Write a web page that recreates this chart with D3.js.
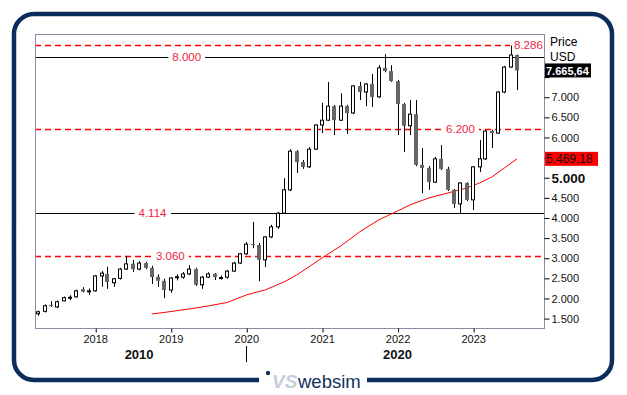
<html>
  <head>
    <script src="https://cdnjs.cloudflare.com/ajax/libs/d3/7.8.5/d3.min.js"></script>
    <style>
      body { margin: 0; background: #fff; }
      svg { display: block; font-family: "Liberation Sans", Arial, sans-serif; }
    </style>
  </head>
  <body>
    <svg width="627" height="395"></svg>
    <script>
      // monthly candles, Apr 2017 .. Aug 2023
      const firstMonth = new Date(2017, 3, 1);
      const lastMonth = new Date(2023, 7, 1);

      const open = [1620,1680,1840,1790,1940,2020,2040,2230,2180,
        2190,2560,2610,2390,2500,2730,2860,2730,2880,2760,2540,2440,
        2210,2530,2530,2610,2730,2340,2530,2610,2510,2530,2680,2880,
        3110,3350,3330,2960,3530,3780,4120,4700,5660,5390,5270,5710,
        6310,6430,6780,6430,6780,6610,7280,7130,7330,7010,7730,7650,
        7400,6830,6290,6580,5320,5240,4890,5470,5220,4700,4350,4870,
        4450,5270,5470,6160,6110,7130,7750,8050];
      const high = [1700,1850,1930,1950,2050,2080,2220,2280,2250,
        2580,2680,2790,2510,2760,3060,2960,2930,2910,2810,2600,2490,
        2530,2600,2660,2830,2760,2560,2650,2630,2570,2710,2910,3130,
        3400,3900,3380,3550,3830,4150,4990,5710,5690,5440,5760,6330,
        6860,7380,6810,7100,6810,7300,7380,7350,7580,7800,8070,7800,
        7430,6860,6930,6930,5740,5290,5520,5810,5270,4720,4890,4890,
        5290,5940,6190,6190,7150,7780,8286,8060];
      const low = [1570,1650,1790,1760,1930,1960,2020,2150,2090,
        2170,2290,2240,2290,2470,2710,2660,2700,2730,2360,2290,2010,
        2140,2450,2490,2580,2310,2240,2510,2460,2470,2490,2660,2860,
        3080,3250,2430,2780,3500,3730,4100,4670,5120,5220,5240,5690,
        6110,6410,6060,6410,6090,6580,6930,6780,6760,6980,7620,7380,
        6060,5640,6060,5290,4620,4700,4870,5190,4670,4250,4114,4420,
        4200,5140,5440,5740,6090,7100,7730,7180];
      const close = [1670,1820,1810,1920,2020,2030,2190,2170,2190,
        2560,2630,2410,2490,2730,2860,2730,2880,2760,2530,2440,2210,
        2510,2540,2610,2730,2340,2530,2610,2530,2520,2680,2880,3110,
        3350,3330,2960,3530,3780,4120,4700,5660,5390,5270,5710,6310,
        6430,6780,6430,6780,6610,7280,7130,7330,7010,7730,7650,7400,
        6830,6290,6580,5320,5240,4890,5470,5220,4700,4350,4870,4450,
        5270,5470,6160,6110,7130,7750,8050,7665.64];

      // moving average
      const maMonths = ["2018-10","2018-12","2019-04","2019-07","2019-10","2020-01","2020-04",
        "2020-07","2020-09","2021-01","2021-04","2021-07","2021-10","2022-01","2022-03",
        "2022-06","2022-09","2022-12","2023-02","2023-04","2023-06","2023-08"];
      const maValues = [1615,1653,1740,1814,1901,2087,2212,2410,2584,3006,3304,3652,3950,
        4174,4323,4497,4621,4745,4869,5018,5242,5469.18];

      // horizontal levels
      const levels = [8286, 8000, 6200, 4114, 3060];
      const levelDashed = [true, false, true, false, true];

      const priceTicks = [1500,2000,2500,3000,3500,4000,4500,5000,5500,6000,6500,7000,7500];
      const hiddenTickLabels = [5500, 7500]; // covered by the value boxes
      const yearTicks = [2018, 2019, 2020, 2021, 2022, 2023];
      const decadeLabels = ["2010", "2020"];

      const months = d3.timeMonth.range(firstMonth, d3.timeMonth.offset(lastMonth, 1));
      const candles = months.map((m, i) => ({date: m, o: open[i], h: high[i], l: low[i], c: close[i]}));
      const parseMonth = d3.timeParse("%Y-%m");
      const ma = maMonths.map((m, i) => ({date: parseMonth(m), v: maValues[i]}));

      const loc = d3.formatLocale({decimal: ",", thousands: ".", grouping: [3], currency: ["", ""]});
      const fmtInt = loc.format(",.0f");
      const fmtDec = loc.format(",.2f");

      const svg = d3.select("svg");
      const plot = {left: 35, top: 34, right: 544, bottom: 328};
      const red = "#ff0000";
      const labelRed = "#ee2244";

      const x = d3.scaleTime().domain([firstMonth, lastMonth]).range([38.3, 517]);
      const y = d3.scaleLinear().domain([1500, 8000]).range([318.6, 57]);

      svg.append("defs").append("clipPath").attr("id", "clip")
        .append("rect").attr("x", plot.left).attr("y", plot.top)
        .attr("width", plot.right - plot.left).attr("height", plot.bottom - plot.top);

      // outer frame
      svg.append("rect")
        .attr("x", 14).attr("y", 14).attr("width", 598).attr("height", 366)
        .attr("rx", 20).attr("fill", "none")
        .attr("stroke", "#0b2d5c").attr("stroke-width", 4.5);

      // levels
      const lv = svg.append("g").attr("clip-path", "url(#clip)");
      levels.forEach((v, i) => {
        const yy = Math.round(y(v)) + 0.5;
        lv.append("line")
          .attr("x1", plot.left).attr("x2", plot.right).attr("y1", yy).attr("y2", yy)
          .attr("stroke", levelDashed[i] ? red : "#000")
          .attr("stroke-width", levelDashed[i] ? 1.3 : 1)
          .attr("stroke-dasharray", levelDashed[i] ? "6,4" : null);
      });

      // level labels
      const labelAt = [
        {date: new Date(2023, 7, 1), anchor: "start", dx: -3},
        {date: new Date(2019, 0, 1), anchor: "middle", dx: 16},
        {date: new Date(2022, 10, 1), anchor: "middle", dx: 0},
        {date: new Date(2018, 8, 1), anchor: "middle", dx: 7},
        {date: new Date(2018, 11, 1), anchor: "middle", dx: 6}
      ];
      levels.forEach((v, i) => {
        const p = labelAt[i];
        const tx = x(p.date) + p.dx;
        const t = svg.append("text")
          .attr("x", tx).attr("y", y(v) + 4)
          .attr("text-anchor", p.anchor)
          .attr("font-size", 11.5).attr("fill", labelRed)
          .text(fmtInt(v));
        const b = t.node().getBBox();
        svg.insert("rect", "text:last-of-type")
          .attr("x", b.x - 4).attr("y", y(v) - 3).attr("width", Math.min(b.width + 8, plot.right - b.x + 4)).attr("height", 6)
          .attr("fill", "#fff");
      });

      // moving average
      svg.append("path")
        .datum(ma)
        .attr("fill", "none").attr("stroke", red).attr("stroke-width", 1)
        .attr("d", d3.line().x(d => x(d.date)).y(d => y(d.v)));

      // candles
      const cg = svg.append("g");
      cg.selectAll("line").data(candles).join("line")
        .attr("x1", d => Math.round(x(d.date)) + 0.5)
        .attr("x2", d => Math.round(x(d.date)) + 0.5)
        .attr("y1", d => y(d.h)).attr("y2", d => y(d.l))
        .attr("stroke", "#000").attr("stroke-width", 1);
      cg.selectAll("rect").data(candles).join("rect")
        .attr("x", d => Math.round(x(d.date)) + (d.c >= d.o ? -1.5 : -2))
        .attr("width", d => d.c >= d.o ? 3 : 4)
        .attr("y", d => Math.min(y(d.o), y(d.c)))
        .attr("height", d => Math.max(1, Math.abs(y(d.o) - y(d.c))))
        .attr("fill", d => d.c >= d.o ? "#fff" : "#666")
        .attr("stroke", d => d.c >= d.o ? "#000" : "none")
        .attr("stroke-width", 1);

      // plot border
      svg.append("rect")
        .attr("x", plot.left + 0.5).attr("y", plot.top + 0.5)
        .attr("width", plot.right - plot.left).attr("height", plot.bottom - plot.top)
        .attr("fill", "none").attr("stroke", "#8c8ca0").attr("stroke-width", 1);

      // right price axis
      const ya = svg.append("g")
        .attr("transform", `translate(${plot.right + 0.5},0)`)
        .call(d3.axisRight(y).tickValues(priceTicks).tickSize(5).tickPadding(2)
          .tickFormat(d => hiddenTickLabels.includes(d) ? "" : fmtInt(d)));
      ya.select(".domain").remove();
      ya.selectAll("text").attr("font-size", 11).attr("fill", "#111").attr("font-family", null)
        .filter(d => d === 5000).attr("font-size", 13.5).attr("font-weight", "bold");

      svg.append("text").attr("x", 550).attr("y", 46).attr("font-size", 12).text("Price");
      svg.append("text").attr("x", 550).attr("y", 61).attr("font-size", 12).text("USD");

      // last price / moving average value boxes
      const lastClose = close[close.length - 1];
      const lastMa = maValues[maValues.length - 1];
      svg.append("rect").attr("x", 545).attr("y", y(lastClose) - 7).attr("width", 46).attr("height", 14).attr("fill", "#000");
      svg.append("text").attr("x", 546).attr("y", y(lastClose) + 4.5)
        .attr("font-size", 11).attr("font-weight", "bold").attr("fill", "#fff").text(fmtDec(lastClose));
      svg.append("rect").attr("x", 545).attr("y", y(lastMa) - 7).attr("width", 53).attr("height", 14).attr("fill", red);
      svg.append("text").attr("x", 546).attr("y", y(lastMa) + 4.5)
        .attr("font-size", 12).attr("fill", "#111").text(fmtDec(lastMa));

      // time axis
      const xa = svg.append("g")
        .attr("transform", `translate(0,${plot.bottom + 0.5})`)
        .call(d3.axisBottom(x).tickValues(yearTicks.map(yr => new Date(yr, 0, 1)))
          .tickSize(4).tickPadding(3).tickFormat(d3.timeFormat("%Y")));
      xa.select(".domain").remove();
      xa.selectAll("line").attr("transform", "translate(0.5,0)");
      xa.selectAll("text").attr("font-size", 11).attr("fill", "#111").attr("font-family", null);

      const decadeAt = [new Date(2018, 7, 1), new Date(2022, 0, 1)];
      decadeLabels.forEach((t, i) => {
        svg.append("text").attr("x", x(decadeAt[i])).attr("y", 359)
          .attr("text-anchor", "middle").attr("font-size", 13).attr("font-weight", "bold")
          .attr("fill", "#111").text(t);
      });
      const sep = Math.round(x(new Date(2020, 0, 1))) + 0.5;
      svg.append("line").attr("x1", sep).attr("x2", sep).attr("y1", 346).attr("y2", 362)
        .attr("stroke", "#000");

      // logo in the bottom border
      svg.append("rect").attr("x", 259).attr("y", 374).attr("width", 108).attr("height", 12).attr("fill", "#fff");
      svg.append("circle").attr("cx", 268).attr("cy", 373).attr("r", 2.2).attr("fill", "#13315c");
      svg.append("text").attr("x", 272).attr("y", 388)
        .attr("font-size", 19).attr("font-weight", "bold").attr("font-style", "italic")
        .attr("fill", "#c5cfdc").text("VS");
      svg.append("text").attr("x", 298).attr("y", 388)
        .attr("font-size", 18.5).attr("fill", "#13315c").text("websim");
    </script>
  </body>
</html>
